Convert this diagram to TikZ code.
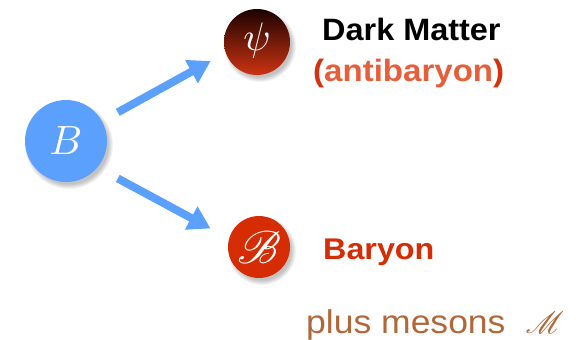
\documentclass[tikz,border=0pt]{standalone}
\usepackage{fontspec}
\usepackage{mathrsfs}
\setmainfont{Liberation Sans}
\usetikzlibrary{arrows.meta}
\definecolor{bblue}{HTML}{5AA0FC}
\definecolor{bred}{HTML}{D62C04}
\definecolor{antired}{HTML}{E65E3A}
\definecolor{parred}{HTML}{D8300C}
\definecolor{mesbrown}{HTML}{B0683A}
\definecolor{psitop}{HTML}{1C0200}
\definecolor{psibot}{HTML}{CC3412}
\tikzset{
  ball/.style={circle, inner sep=0pt, minimum size=#1, text=white},
  shad/.pic={
    \foreach \k in {0,...,5} {\fill[black, opacity=0.045] (3,4) circle ({#1+3-\k*0.9});}
  },
  bigarrow/.style={draw=bblue, line width=8bp, -{Triangle[length=22bp,width=25bp]}},
  lbl/.style={anchor=west, inner sep=0pt}
}
\begin{document}
\begin{tikzpicture}[x=1bp,y=-1bp]
\useasboundingbox (0,0) rectangle (576,339);
% shadows
\pic at (66,141) {shad=41};
\pic at (257,42) {shad=33};
\pic at (259,247) {shad=31};
% circles
\node[ball=82bp, fill=bblue] (B) at (66,141) {};
\node[ball=66bp, top color=psitop, bottom color=psibot] (psi) at (257,42) {};
\node[ball=62bp, fill=bred] (bar) at (259,247) {};
\node[text=white, scale=4.1] at (B) {$B$};
\node[text=white, scale=4.0] at ([yshift=1bp]psi.center) {$\psi$};
\node[text=white, scale=4.6] at (bar) {$\mathscr{B}$};
% arrows
\draw[bigarrow, shorten <=18bp, shorten >=17bp] (B.29) -- (psi.199);
\draw[bigarrow, shorten <=23bp, shorten >=21bp] (B.-40) -- (bar.164);
% labels
\node[lbl, xscale=1.05, font=\bfseries\fontsize{31}{31}\selectfont] (dm) at (322,29) {Dark Matter};
\node[lbl, xscale=1.07, font=\bfseries\fontsize{31}{31}\selectfont, text=antired] (anti) at (313,74) {\textcolor{parred}{(}antibaryon\textcolor{parred}{)}};
\node[lbl, xscale=1.08, font=\bfseries\fontsize{30}{30}\selectfont, text=bred] (bary) at (323,252) {Baryon};
\node[lbl, anchor=base west, xscale=1.08, font=\fontsize{33}{33}\selectfont, text=mesbrown] (mes) at (306,333) {plus mesons};
\node[anchor=base west, inner sep=0pt, scale=3.1, text=mesbrown] (M) at (525,333) {$\mathscr{M}$};
\end{tikzpicture}
\end{document}
